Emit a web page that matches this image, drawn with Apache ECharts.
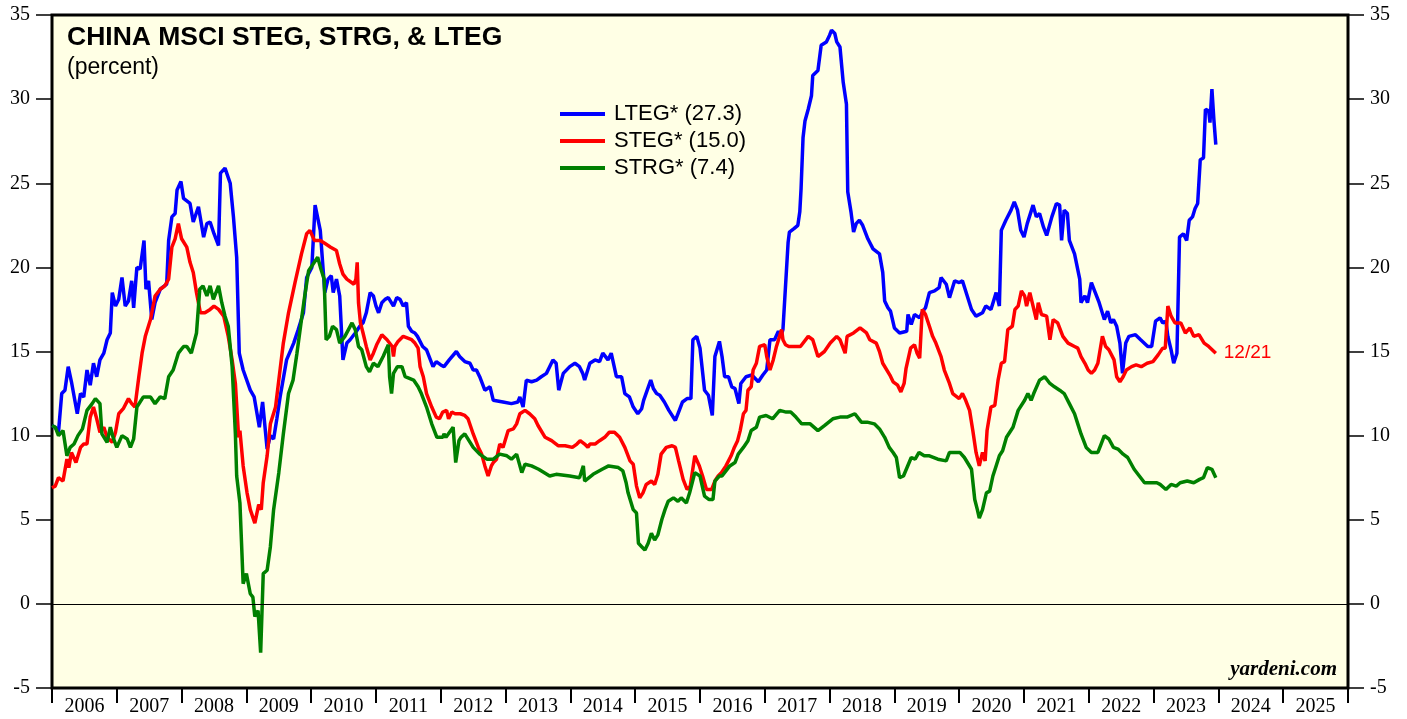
<!DOCTYPE html>
<html>
<head>
<meta charset="utf-8">
<script src="https://cdn.jsdelivr.net/npm/echarts@6/dist/echarts.min.js"></script>
<style>
html,body{margin:0;padding:0;background:#ffffff;}
#chart{width:1407px;height:719px;}
</style>
</head>
<body>
<div id="chart"></div>
<script>
// ---- Data (decimal year, percent) ----
const years = ['2006','2007','2008','2009','2010','2011','2012','2013','2014','2015','2016','2017','2018','2019','2020','2021','2022','2023','2024','2025'];
const yTicks = [-5, 0, 5, 10, 15, 20, 25, 30, 35];

const ltegName = 'LTEG* (27.3)';
const stegName = 'STEG* (15.0)';
const strgName = 'STRG* (7.4)';

const lteg_t = [2006.00,2006.05,2006.10,2006.15,2006.20,2006.25,2006.30,2006.39,2006.44,2006.49,2006.54,2006.59,2006.64,2006.69,2006.74,2006.80,2006.85,2006.90,2006.93,2006.98,
2007.03,2007.08,2007.13,2007.18,2007.23,2007.26,2007.31,2007.36,2007.42,2007.45,2007.49,2007.54,2007.59,2007.67,2007.77,2007.80,2007.85,2007.90,2007.93,2007.99,
2008.03,2008.13,2008.18,2008.26,2008.34,2008.39,2008.44,2008.50,2008.57,2008.60,2008.67,2008.75,2008.80,2008.85,2008.89,2008.95,
2009.06,2009.12,2009.20,2009.25,2009.32,2009.37,2009.42,2009.47,2009.52,2009.62,2009.73,2009.80,2009.88,2009.93,
2010.01,2010.06,2010.14,2010.21,2010.26,2010.31,2010.34,2010.39,2010.44,2010.49,2010.55,2010.60,2010.68,2010.75,2010.80,2010.85,2010.91,2010.96,
2011.00,2011.04,2011.09,2011.14,2011.19,2011.27,2011.32,2011.37,2011.42,2011.47,2011.50,2011.55,2011.60,2011.64,2011.72,2011.78,2011.88,2011.93,
2012.00,2012.05,2012.13,2012.24,2012.29,2012.37,2012.45,2012.50,2012.55,2012.60,2012.68,2012.76,2012.81,2012.96,
2013.09,2013.19,2013.22,2013.27,2013.32,2013.40,2013.48,2013.55,2013.63,2013.68,2013.73,2013.78,2013.82,2013.89,2013.99,
2014.07,2014.14,2014.19,2014.22,2014.30,2014.38,2014.45,2014.50,2014.53,2014.58,2014.63,2014.71,2014.79,2014.84,2014.91,2014.97,
2015.04,2015.10,2015.13,2015.24,2015.28,2015.33,2015.38,2015.45,2015.52,2015.62,2015.67,2015.73,2015.80,2015.86,2015.89,2015.95,
2016.00,2016.07,2016.13,2016.19,2016.23,2016.30,2016.34,2016.38,2016.44,2016.49,2016.54,2016.60,2016.63,2016.71,2016.80,2016.90,2016.97,
2017.03,2017.08,2017.15,2017.21,2017.25,2017.28,2017.36,2017.38,2017.45,2017.51,2017.54,2017.56,2017.59,2017.62,2017.67,2017.72,2017.74,2017.82,2017.87,2017.95,
2018.00,2018.03,2018.08,2018.11,2018.16,2018.21,2018.26,2018.28,2018.33,2018.37,2018.41,2018.46,2018.51,2018.59,2018.67,2018.77,2018.82,2018.85,2018.90,2018.94,
2019.00,2019.08,2019.19,2019.21,2019.26,2019.31,2019.39,2019.44,2019.48,2019.54,2019.62,2019.69,2019.72,2019.80,2019.85,2019.93,
2020.00,2020.05,2020.19,2020.26,2020.36,2020.41,2020.49,2020.57,2020.62,2020.65,2020.72,2020.80,2020.85,2020.90,2020.95,
2021.00,2021.05,2021.14,2021.19,2021.24,2021.30,2021.35,2021.43,2021.50,2021.55,2021.58,2021.62,2021.67,2021.70,2021.78,2021.86,2021.88,2021.94,2021.98,
2022.04,2022.10,2022.16,2022.24,2022.29,2022.34,2022.38,2022.43,2022.48,2022.52,2022.57,2022.62,2022.72,2022.80,2022.91,2022.97,
2023.03,2023.10,2023.14,2023.19,2023.22,2023.27,2023.31,2023.36,2023.40,2023.46,2023.51,2023.55,2023.60,2023.64,2023.68,2023.72,2023.77,2023.80,2023.85,2023.87,2023.90,2023.93,2023.96];
const lteg_v = [10.6,10.5,10.2,12.5,12.7,14.1,13.2,11.3,12.5,12.3,13.9,13.0,14.3,13.5,14.5,14.9,15.7,16.1,18.5,17.7,
18.1,19.4,17.7,18.0,19.2,17.6,20.0,19.9,21.6,18.7,19.2,16.9,17.9,18.7,19.0,21.6,23.0,23.2,24.6,25.1,
24.1,23.8,22.7,23.6,21.8,22.6,22.7,22.0,21.3,25.6,25.9,25.0,23.0,20.6,14.9,13.9,
12.7,12.3,10.5,12.0,9.2,10.0,9.8,11.0,12.3,14.5,15.5,16.3,17.3,19.4,
20.0,23.7,22.2,18.5,19.3,19.5,18.5,19.3,18.3,14.5,15.5,15.7,16.1,16.5,16.7,17.3,18.5,18.3,
17.7,17.3,17.9,18.1,18.2,17.7,18.2,18.1,17.7,17.9,16.5,16.2,16.1,15.9,15.3,15.1,14.1,14.4,
14.2,14.1,14.5,15.0,14.7,14.4,14.3,13.9,13.9,13.5,12.7,12.9,12.1,12.0,
11.9,12.0,12.3,11.7,13.3,13.2,13.3,13.5,13.7,14.1,14.5,14.3,12.7,13.7,14.1,
14.3,14.1,13.7,13.3,14.3,14.5,14.4,14.9,15.0,14.5,14.9,13.5,13.5,12.5,12.3,11.7,
11.3,11.6,12.1,13.3,12.8,12.5,12.4,12.0,11.5,10.9,11.4,12.0,12.2,12.2,15.7,15.9,
15.2,12.7,12.4,11.2,14.7,15.6,14.7,13.5,13.5,12.9,12.8,11.9,13.1,13.5,13.6,13.2,13.6,
13.9,15.7,15.7,16.2,15.9,16.3,21.5,22.1,22.3,22.5,23.3,24.7,27.7,28.7,29.4,30.2,31.4,31.7,33.2,33.4,
33.8,34.1,33.9,33.4,33.1,31.0,29.7,24.5,23.3,22.1,22.6,22.8,22.5,21.7,21.1,20.8,19.7,18.0,17.6,17.4,
16.4,16.1,16.2,17.2,16.6,17.2,17.0,17.4,17.6,18.5,18.6,18.8,19.4,19.0,18.2,19.2,
19.1,19.2,17.5,17.1,17.3,17.7,17.5,18.5,17.7,22.2,22.8,23.4,23.9,23.4,22.2,
21.8,22.6,23.7,23.0,23.2,22.4,21.9,23.0,23.8,23.7,21.6,23.4,23.2,21.6,20.8,19.3,17.9,18.3,17.9,
19.1,18.5,17.9,16.9,17.4,16.7,16.9,16.5,15.5,13.7,15.5,15.9,16.0,15.7,15.3,15.3,
16.8,17.0,16.7,16.8,15.9,15.1,14.3,14.9,21.8,22.0,21.6,22.8,23.0,23.5,23.8,26.4,26.5,29.4,29.3,28.6,30.6,28.8,27.3];

const steg_t = [2006.00,2006.05,2006.10,2006.17,2006.23,2006.26,2006.30,2006.37,2006.44,2006.49,2006.54,2006.59,2006.64,2006.69,2006.74,2006.80,2006.85,2006.93,2006.98,
2007.03,2007.10,2007.18,2007.23,2007.28,2007.34,2007.39,2007.44,2007.52,2007.59,2007.67,2007.74,2007.80,2007.85,2007.90,2007.95,
2008.00,2008.08,2008.13,2008.18,2008.23,2008.29,2008.36,2008.44,2008.50,2008.57,2008.65,2008.72,2008.78,2008.83,2008.88,2008.90,2008.95,
2009.01,2009.06,2009.13,2009.19,2009.23,2009.26,2009.32,2009.37,2009.45,2009.50,2009.57,2009.65,2009.75,2009.85,2009.93,2009.98,
2010.05,2010.14,2010.22,2010.30,2010.39,2010.44,2010.49,2010.55,2010.66,2010.69,2010.71,2010.73,2010.76,2010.80,2010.85,2010.91,2010.96,
2011.01,2011.09,2011.17,2011.25,2011.27,2011.29,2011.34,2011.42,2011.55,2011.60,2011.65,2011.68,2011.73,2011.78,2011.86,2011.93,2011.98,
2012.03,2012.09,2012.12,2012.17,2012.22,2012.30,2012.37,2012.42,2012.50,2012.58,2012.63,2012.68,2012.73,2012.78,2012.81,2012.86,2012.91,2012.96,
2013.04,2013.12,2013.17,2013.22,2013.30,2013.37,2013.40,2013.45,2013.50,2013.61,2013.71,2013.81,2013.92,
2014.03,2014.10,2014.15,2014.22,2014.27,2014.30,2014.38,2014.45,2014.53,2014.60,2014.68,2014.76,2014.84,2014.92,2014.97,
2015.02,2015.07,2015.12,2015.17,2015.25,2015.30,2015.35,2015.40,2015.48,2015.57,2015.62,2015.67,2015.74,2015.80,2015.85,2015.92,2015.99,
2016.04,2016.10,2016.18,2016.23,2016.28,2016.33,2016.40,2016.48,2016.53,2016.58,2016.62,2016.67,2016.71,2016.74,2016.79,2016.82,2016.87,2016.92,
2017.00,2017.03,2017.08,2017.13,2017.18,2017.26,2017.28,2017.32,2017.37,2017.47,2017.55,2017.67,2017.74,2017.82,2017.92,
2018.01,2018.11,2018.16,2018.24,2018.27,2018.37,2018.47,2018.57,2018.62,2018.72,2018.77,2018.82,2018.93,2018.98,
2019.05,2019.10,2019.15,2019.18,2019.25,2019.31,2019.35,2019.39,2019.43,2019.48,2019.54,2019.59,2019.64,2019.72,2019.77,2019.85,2019.90,
2020.00,2020.05,2020.10,2020.16,2020.21,2020.26,2020.31,2020.36,2020.40,2020.43,2020.49,2020.55,2020.60,2020.65,2020.70,2020.75,2020.82,2020.86,2020.91,2020.96,
2021.01,2021.04,2021.09,2021.14,2021.19,2021.22,2021.27,2021.35,2021.40,2021.45,2021.52,2021.60,2021.68,2021.78,2021.83,2021.88,2021.94,2021.99,
2022.04,2022.09,2022.14,2022.21,2022.26,2022.31,2022.39,2022.43,2022.48,2022.53,2022.58,2022.66,2022.73,2022.81,2022.90,2022.99,
2023.07,2023.14,2023.18,2023.22,2023.27,2023.33,2023.42,2023.49,2023.56,2023.62,2023.70,2023.78,2023.85,2023.96];
const steg_v = [6.9,7.0,7.5,7.3,8.6,8.1,9.0,8.4,9.3,9.5,9.5,11.1,11.7,11.0,10.2,10.5,9.9,9.6,10.2,
11.3,11.6,12.2,11.9,11.7,13.5,14.9,15.9,16.9,18.3,18.7,18.9,19.3,21.2,21.7,22.6,
21.7,21.2,20.3,19.7,18.5,17.3,17.3,17.5,17.7,17.5,17.1,15.9,14.5,13.1,9.9,10.3,8.2,
6.6,5.6,4.8,5.9,5.6,7.2,8.8,10.7,11.7,13.3,15.5,17.3,19.1,20.8,22.0,22.2,
21.6,21.6,21.4,21.2,21.0,20.2,19.6,19.3,19.0,19.3,20.3,17.9,16.7,16.1,15.3,14.5,14.9,
15.4,16.0,15.7,15.3,14.7,15.3,15.6,15.9,15.7,15.5,15.2,14.1,13.5,12.5,11.7,11.1,11.0,
11.4,11.5,11.0,11.4,11.3,11.3,11.2,11.0,10.1,9.3,8.9,8.2,7.6,8.2,8.4,8.6,9.5,9.3,
10.3,10.4,10.7,11.3,11.5,11.3,11.2,11.0,10.6,9.9,9.7,9.4,9.4,
9.3,9.5,9.7,9.5,9.3,9.5,9.5,9.7,9.9,10.2,10.2,9.9,9.3,8.5,8.3,
7.0,6.3,6.6,7.1,7.3,7.1,7.7,8.9,9.3,9.4,9.3,8.5,7.4,6.8,7.0,8.8,8.2,
7.6,6.8,6.8,7.3,7.6,7.8,8.2,8.8,9.3,9.7,10.3,11.3,11.5,12.7,12.9,13.9,14.3,15.3,
15.4,14.7,13.9,14.5,15.3,16.3,15.7,15.4,15.3,15.3,15.3,15.9,15.7,14.7,15.0,
15.5,15.9,15.7,14.9,15.9,16.1,16.4,16.1,15.7,15.5,15.0,14.3,13.6,13.2,
13.0,12.6,13.1,14.0,15.2,15.4,14.9,14.6,17.5,17.2,16.5,15.9,15.5,14.7,13.9,13.1,12.5,
12.2,12.5,12.1,11.5,10.3,9.0,8.2,9.0,8.5,10.3,11.7,11.8,13.3,14.3,14.4,16.3,16.5,17.5,17.7,18.6,
18.3,17.7,18.5,17.7,16.9,17.9,17.2,17.1,15.7,16.9,16.7,15.9,15.5,15.3,15.2,14.7,14.3,13.9,
13.7,13.9,14.3,15.9,15.3,15.1,14.5,13.5,13.2,13.5,13.9,14.1,14.2,14.1,14.3,14.4,
14.8,15.2,15.2,17.7,17.1,16.7,16.7,16.1,16.4,15.9,16.0,15.5,15.3,14.9];

const strg_t = [2006.00,2006.05,2006.10,2006.17,2006.23,2006.28,2006.34,2006.40,2006.47,2006.54,2006.62,2006.67,2006.74,2006.77,2006.85,2006.90,2006.95,
2007.00,2007.08,2007.16,2007.21,2007.26,2007.31,2007.41,2007.52,2007.59,2007.67,2007.74,2007.80,2007.87,2007.95,
2008.03,2008.08,2008.15,2008.23,2008.28,2008.33,2008.39,2008.44,2008.49,2008.57,2008.62,2008.67,2008.72,2008.78,2008.83,2008.85,2008.90,2008.95,
2009.00,2009.06,2009.10,2009.13,2009.18,2009.22,2009.26,2009.32,2009.37,2009.42,2009.50,2009.57,2009.65,2009.72,2009.78,2009.85,2009.90,2009.96,
2010.03,2010.10,2010.15,2010.20,2010.23,2010.28,2010.33,2010.39,2010.44,2010.52,2010.63,2010.68,2010.73,2010.78,2010.85,2010.90,2010.96,
2011.03,2011.11,2011.19,2011.21,2011.24,2011.27,2011.33,2011.40,2011.45,2011.58,2011.65,2011.70,2011.78,2011.86,2011.94,
2012.03,2012.05,2012.08,2012.19,2012.23,2012.28,2012.31,2012.37,2012.50,2012.60,2012.71,2012.81,2012.91,
2013.02,2013.09,2013.17,2013.25,2013.30,2013.40,2013.51,2013.68,2013.78,2013.99,
2014.14,2014.20,2014.22,2014.35,2014.49,2014.59,2014.74,2014.81,2014.86,2014.89,2014.97,
2015.02,2015.05,2015.10,2015.15,2015.20,2015.25,2015.30,2015.35,2015.41,2015.46,2015.51,2015.59,2015.66,2015.71,2015.79,2015.84,2015.92,
2016.00,2016.07,2016.14,2016.20,2016.23,2016.30,2016.34,2016.46,2016.54,2016.59,2016.67,2016.74,2016.79,2016.87,2016.92,
2017.02,2017.12,2017.23,2017.33,2017.40,2017.48,2017.57,2017.70,2017.82,2017.92,
2018.05,2018.16,2018.27,2018.39,2018.49,2018.58,2018.69,2018.77,2018.85,2018.92,2018.98,
2019.03,2019.08,2019.14,2019.26,2019.32,2019.38,2019.46,2019.54,2019.67,2019.80,2019.85,2019.92,
2020.01,2020.08,2020.19,2020.24,2020.28,2020.31,2020.36,2020.42,2020.47,2020.52,2020.57,2020.62,2020.67,2020.73,2020.83,2020.91,
2021.01,2021.06,2021.11,2021.15,2021.24,2021.32,2021.40,2021.47,2021.55,2021.62,2021.70,2021.78,2021.83,2021.88,2021.96,
2022.04,2022.14,2022.19,2022.24,2022.31,2022.38,2022.45,2022.53,2022.60,2022.70,2022.78,2022.86,2022.97,
2023.05,2023.10,2023.19,2023.27,2023.35,2023.41,2023.52,2023.62,2023.71,2023.77,2023.83,2023.90,2023.96];
const strg_v = [10.6,10.5,10.0,10.3,8.8,9.3,9.5,10.0,10.4,11.5,11.9,12.2,11.9,10.1,9.6,10.5,9.8,
9.3,10.0,9.8,9.3,9.8,11.7,12.3,12.3,11.9,12.3,12.2,13.5,13.9,14.9,
15.3,15.3,14.9,16.1,18.7,18.9,18.3,18.9,18.1,18.9,17.9,17.1,16.5,14.1,10.1,7.6,6.0,1.2,
1.8,0.6,0.4,-0.75,-0.4,-2.9,1.8,2.0,3.4,5.6,7.8,10.1,12.5,13.3,14.9,16.9,18.3,19.8,
20.2,20.6,19.9,19.3,15.7,15.9,16.5,16.3,15.5,15.9,16.7,16.3,15.3,15.1,14.1,13.8,14.3,
14.1,14.7,15.4,13.5,12.5,13.7,14.1,14.1,13.5,13.3,12.9,12.5,11.7,10.7,9.9,
9.9,10.1,9.9,10.5,8.4,9.7,9.9,10.1,9.3,8.9,8.6,8.6,8.9,
8.8,8.6,8.9,7.8,8.3,8.2,8.0,7.6,7.7,7.6,
7.5,8.2,7.3,7.7,8.0,8.2,8.1,7.9,7.2,6.6,5.6,
5.4,3.6,3.4,3.2,3.6,4.2,3.8,4.1,5.0,5.6,6.1,6.3,6.1,6.3,6.0,6.6,7.8,
7.6,6.4,6.2,6.2,7.3,7.6,7.6,8.2,8.4,8.9,9.3,9.7,10.3,10.5,11.1,
11.2,11.0,11.5,11.4,11.4,11.1,10.7,10.7,10.3,10.6,
11.0,11.1,11.1,11.3,10.8,10.8,10.7,10.4,9.9,9.3,9.0,
8.7,7.5,7.6,8.7,8.6,9.0,8.8,8.8,8.6,8.5,9.0,9.0,
9.0,8.7,8.0,6.2,5.6,5.1,5.6,6.6,6.7,7.6,8.2,8.8,9.1,9.9,10.5,11.5,
12.1,12.5,12.1,12.5,13.3,13.5,13.1,12.9,12.7,12.5,11.9,11.3,10.7,10.1,9.3,
9.0,9.0,9.5,10.0,9.8,9.3,9.2,8.9,8.7,8.0,7.6,7.2,7.2,
7.2,7.1,6.8,7.1,7.0,7.2,7.3,7.2,7.4,7.5,8.1,8.0,7.5];

function pairs(t, v) { return t.map((x, i) => [x, v[i]]); }

const chart = echarts.init(document.getElementById('chart'), null, {renderer: 'canvas'});
const serif = '"Liberation Serif", "Times New Roman", serif';
const sans = '"Liberation Sans", Arial, Helvetica, sans-serif';

const yAxisCommon = {
  type: 'value', min: -5, max: 35, interval: 5,
  splitLine: {show: false},
  axisLine: {show: false},
  axisTick: {show: true, inside: false, length: 16, lineStyle: {color: '#000', width: 1.5}},
  axisLabel: {color: '#000', fontFamily: serif, fontSize: 20, margin: 22,
    formatter: v => yTicks.indexOf(v) >= 0 ? String(v) : ''}
};

chart.setOption({
  animation: false,
  backgroundColor: '#ffffff',
  grid: {left: 52, right: 59, top: 15, bottom: 31, show: true,
    backgroundColor: '#FFFFE5', borderColor: '#000', borderWidth: 3},
  xAxis: [
    {type: 'category', data: years, boundaryGap: true, position: 'bottom',
     axisLine: {show: false, onZero: false},
     axisTick: {show: true, inside: false, length: 15, interval: 0, alignWithLabel: false, lineStyle: {color: '#000', width: 2}},
     axisLabel: {color: '#000', fontFamily: serif, fontSize: 20, margin: 9, interval: 0},
     splitLine: {show: false}},
    {type: 'value', min: 2006, max: 2026, show: false, splitLine: {show: false}, axisLine: {onZero: false}}
  ],
  yAxis: [
    Object.assign({}, yAxisCommon, {position: 'left'}),
    Object.assign({}, yAxisCommon, {position: 'right'})
  ],
  legend: {
    orient: 'vertical', left: 555, top: 96, itemWidth: 45, itemHeight: 4, itemGap: 1,
    icon: 'rect',
    textStyle: {color: '#000', fontFamily: sans, fontSize: 22, lineHeight: 26, padding: [0, 0, 0, 4]},
    data: [ltegName, stegName, strgName]
  },
  series: [
    {name: ltegName, type: 'line', xAxisIndex: 1, yAxisIndex: 0, showSymbol: false, symbol: 'none',
     lineStyle: {color: '#0000FF', width: 3.5}, itemStyle: {color: '#0000FF'},
     data: pairs(lteg_t, lteg_v)},
    {name: stegName, type: 'line', xAxisIndex: 1, yAxisIndex: 0, showSymbol: false, symbol: 'none',
     lineStyle: {color: '#FF0000', width: 3.5}, itemStyle: {color: '#FF0000'},
     endLabel: {show: true, formatter: '12/21', color: '#FF0000', fontFamily: sans, fontSize: 19, distance: 8},
     data: pairs(steg_t, steg_v)},
    {name: strgName, type: 'line', xAxisIndex: 1, yAxisIndex: 0, showSymbol: false, symbol: 'none',
     lineStyle: {color: '#008000', width: 3.5}, itemStyle: {color: '#008000'},
     markLine: {silent: true, symbol: 'none', label: {show: false},
       lineStyle: {color: '#000', width: 1, type: 'solid'}, data: [{yAxis: 0}]},
     data: pairs(strg_t, strg_v)}
  ],
  graphic: [
    {type: 'text', left: 67, top: 24, silent: true,
     style: {text: 'CHINA MSCI STEG, STRG, & LTEG', fill: '#000', font: 'bold 26.5px ' + sans}},
    {type: 'text', left: 67, top: 56, silent: true,
     style: {text: '(percent)', fill: '#000', font: '23px ' + sans}},
    {type: 'text', right: 1407 - 1337, top: 659, silent: true,
     style: {text: 'yardeni.com', fill: '#000', font: 'italic bold 21px ' + serif}}
  ]
});
</script>
</body>
</html>
